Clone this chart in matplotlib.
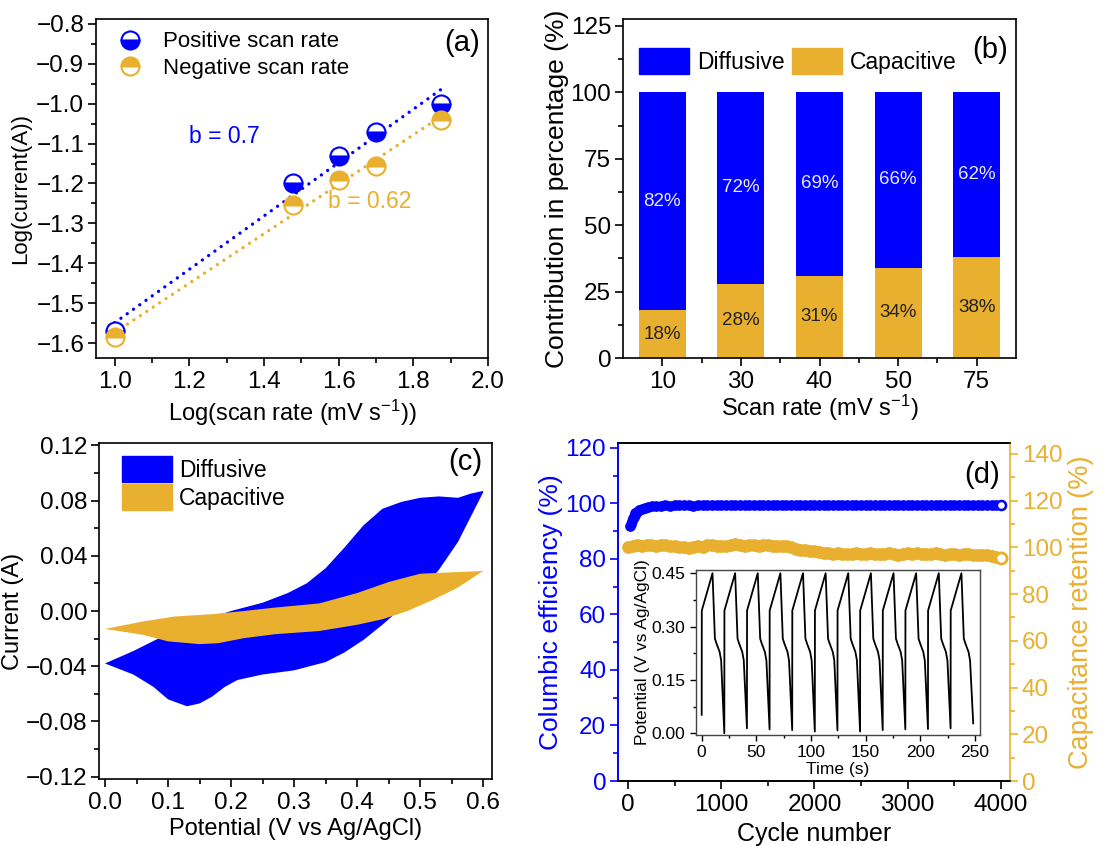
import numpy as np
import matplotlib
matplotlib.use("Agg")
import matplotlib.pyplot as plt
from matplotlib.patches import Patch
from matplotlib.ticker import MultipleLocator, FuncFormatter

plt.rcParams['font.family'] = ['Liberation Sans', 'DejaVu Sans']
plt.rcParams['mathtext.default'] = 'regular'
plt.rcParams['axes.linewidth'] = 1.2

BLUE = '#0000FF'
GOLD = '#E9B030'

# (a) b-value plot
log_rate = [1.0, 1.477, 1.602, 1.699, 1.875]
log_i_pos = [-1.57, -1.20, -1.13, -1.07, -1.00]
log_i_neg = [-1.585, -1.255, -1.19, -1.155, -1.04]

# (b) contributions
rates = ['10', '30', '40', '50', '75']
capacitive = [18, 28, 31, 34, 38]
diffusive = [82, 72, 69, 66, 62]

# (c) CV loops (potential V, current A)
diff_fwd_v = [0.0, 0.045, 0.08, 0.12, 0.16, 0.20, 0.25, 0.29, 0.32, 0.35, 0.38, 0.41, 0.44, 0.47, 0.50, 0.53, 0.56, 0.58, 0.6]
diff_fwd_i = [-0.038, -0.029, -0.021, -0.013, -0.006, 0.0, 0.006, 0.013, 0.020, 0.031, 0.046, 0.062, 0.074, 0.079, 0.082, 0.083, 0.082, 0.085, 0.087]
diff_rev_v = [0.6, 0.58, 0.56, 0.53, 0.50, 0.47, 0.44, 0.41, 0.38, 0.35, 0.30, 0.25, 0.21, 0.19, 0.17, 0.15, 0.13, 0.10, 0.077, 0.045, 0.0]
diff_rev_i = [0.086, 0.068, 0.050, 0.030, 0.014, 0.002, -0.010, -0.021, -0.030, -0.037, -0.043, -0.046, -0.050, -0.055, -0.062, -0.067, -0.069, -0.064, -0.055, -0.046, -0.038]
cap_fwd_v = [0.0, 0.06, 0.11, 0.17, 0.22, 0.27, 0.34, 0.40, 0.45, 0.50, 0.55, 0.6]
cap_fwd_i = [-0.013, -0.0076, -0.004, -0.0023, 0.0, 0.0025, 0.0055, 0.013, 0.021, 0.027, 0.028, 0.029]
cap_rev_v = [0.6, 0.56, 0.52, 0.48, 0.44, 0.40, 0.34, 0.27, 0.22, 0.18, 0.15, 0.10, 0.06, 0.0]
cap_rev_i = [0.029, 0.017, 0.008, 0.0, -0.006, -0.010, -0.0145, -0.0168, -0.0197, -0.0233, -0.024, -0.022, -0.0172, -0.013]

# (d) cycling
ce_cycles = [20, 30, 40, 50, 60, 70, 80, 100, 120, 150, 180, 220, 260, 300] + list(range(350, 4001, 50))
ce_values = [91.8, 92.5, 93.6, 94.6, 95.3, 95.9, 96.4, 97.1, 97.6, 98.1, 98.5, 98.8, 99.0, 99.1,
             99.2, 99.3, 99.2, 99.4, 99.3, 99.3, 99.4, 99.2, 99.3, 99.4,
             99.3, 99.4, 99.3, 99.5, 99.4, 99.3, 99.4, 99.4, 99.3, 99.5,
             99.4, 99.3, 99.4, 99.5, 99.4, 99.4, 99.3, 99.5, 99.4, 99.4,
             99.5, 99.4, 99.3, 99.4, 99.5, 99.4, 99.5, 99.4, 99.4, 99.5,
             99.4, 99.5, 99.4, 99.5, 99.5, 99.4, 99.5, 99.4, 99.5, 99.5,
             99.4, 99.5, 99.5, 99.4, 99.5, 99.5, 99.6, 99.5, 99.4, 99.5,
             99.5, 99.6, 99.5, 99.5, 99.4, 99.5, 99.6, 99.5, 99.5, 99.6,
             99.5, 99.5, 99.6, 99.6]
ret_cycles = list(range(0, 4001, 50))
ret_values = [100.0, 100.4, 100.8, 100.5, 100.9, 101.0, 100.6, 100.8, 100.9, 100.5,
              100.7, 100.2, 100.0, 99.8, 99.9, 100.4, 100.2, 100.8, 101.1, 100.7,
              100.4, 100.5, 100.9, 101.2, 101.0, 100.6, 100.9, 100.8, 100.6, 100.9,
              101.0, 100.6, 100.7, 100.4, 100.6,
              100.0, 99.3, 98.8, 98.9, 98.5, 98.3, 98.0, 97.6, 97.4, 97.3,
              97.5, 97.2, 97.0, 97.3, 97.6, 97.1, 97.0, 97.4, 97.2, 96.9,
              97.3, 97.5, 97.1, 96.8, 97.2, 97.4, 97.0, 97.6, 97.2, 96.9,
              97.1, 97.4, 97.0, 96.8, 97.2, 97.0, 96.7, 97.1, 96.9, 96.6,
              96.8, 96.5, 96.7, 96.2, 96.0, 95.2]

# inset GCD: one cycle shape (time offset s, potential V) and the low point of each cycle
gcd_period = 20.7
gcd_shape_dt = [0.1, 9.9, 12.1, 13.6, 16.4, 17.8]
gcd_shape_v = [0.345, 0.45, 0.266, 0.252, 0.229, 0.205]
gcd_lows = [0.052, 0.0, 0.014, 0.011, 0.009, 0.005, 0.008, 0.005, 0.009, 0.011, 0.012, 0.014, 0.028]

W, H = 1120, 846
fig = plt.figure(figsize=(W / 100, H / 100), dpi=100)


def rect(l, r, t, b):
    return [l / W, 1 - b / H, (r - l) / W, (b - t) / H]


def fmt(spec):
    return FuncFormatter(lambda v, p: (spec % v).replace('-', '\u2212'))


def style(ax, fs=17.5):
    ax.tick_params(which='both', direction='out', top=False, right=False, labelsize=fs, width=1.2)
    ax.tick_params(which='major', length=6)
    ax.tick_params(which='minor', length=3.5)
    ax.tick_params(axis='y', pad=2.5)


# ---- (a)
ax = fig.add_axes(rect(96, 488, 19, 358))
for y, c in [(log_i_pos, BLUE), (log_i_neg, GOLD)]:
    k, b0 = np.polyfit(log_rate, y, 1)
    xx = np.array([log_rate[0], log_rate[-1]])
    ax.plot(xx, k * xx + b0, color=c, lw=2.4, dashes=(0.01, 2.3), dash_capstyle='round')
ax.plot(log_rate, log_i_pos, 'o', ls='none', ms=13, mew=1.5, mec=BLUE, mfc=BLUE,
        fillstyle='bottom', markerfacecoloralt='white', label='Positive scan rate')
ax.plot(log_rate, log_i_neg, 'o', ls='none', ms=13, mew=1.5, mec=GOLD, mfc=GOLD,
        fillstyle='top', markerfacecoloralt='white', label='Negative scan rate')
ax.set_xlim(0.95, 2.0)
ax.set_ylim(-1.6376, -0.7875)
ax.xaxis.set_major_locator(MultipleLocator(0.2))
ax.xaxis.set_minor_locator(MultipleLocator(0.1))
ax.yaxis.set_major_locator(MultipleLocator(0.1))
ax.yaxis.set_minor_locator(MultipleLocator(0.05))
ax.xaxis.set_major_formatter(fmt('%.1f'))
ax.yaxis.set_major_formatter(fmt('%.1f'))
style(ax)
ax.text(1.2, -1.083, 'b = 0.7', color=BLUE, fontsize=16.5, va='center')
ax.text(1.572, -1.245, 'b = 0.62', color=GOLD, fontsize=16.5, va='center')
ax.text(0.98, 0.93, '(a)', transform=ax.transAxes, ha='right', va='center', fontsize=21)
ax.legend(loc='upper left', bbox_to_anchor=(0.035, 0.99), frameon=False, fontsize=16,
          handlelength=1.0, handletextpad=1.0, labelspacing=0.25, borderaxespad=0)
ax.set_xlabel('Log(scan rate (mV s$^{-1}$))', fontsize=17, labelpad=3)
ax.set_ylabel('Log(current(A))', fontsize=16, labelpad=4)

# ---- (b)
ax = fig.add_axes(rect(623, 1016, 19, 358))
x = np.arange(len(rates))
bc = ax.bar(x, capacitive, 0.6, color=GOLD)
bd = ax.bar(x, diffusive, 0.6, bottom=capacitive, color=BLUE)
ax.bar_label(bc, labels=[f'{v}%' for v in capacitive], label_type='center', fontsize=13.5, color='#222222')
ax.bar_label(bd, labels=[f'{v}%' for v in diffusive], label_type='center', fontsize=13.5, color='#E8E8FF')
ax.set_xlim(-0.5, 4.5)
ax.set_ylim(0, 127.6)
ax.set_xticks(x)
ax.set_xticklabels(rates)
ax.set_xticks(x[:-1] + 0.5, minor=True)
ax.yaxis.set_major_locator(MultipleLocator(25))
ax.yaxis.set_minor_locator(MultipleLocator(12.5))
style(ax)
ax.text(0.98, 0.91, '(b)', transform=ax.transAxes, ha='right', va='center', fontsize=21)
ax.legend(handles=[Patch(color=BLUE, label='Diffusive'), Patch(color=GOLD, label='Capacitive')],
          ncol=2, loc='center left', bbox_to_anchor=(0.04, 0.876), frameon=False, fontsize=16.5,
          handlelength=2.2, handleheight=1.35, handletextpad=0.35, columnspacing=0.3,
          borderaxespad=0, borderpad=0)
ax.set_xlabel('Scan rate (mV s$^{-1}$)', fontsize=17, labelpad=0)
ax.set_ylabel('Contribution in percentage (%)', fontsize=19, labelpad=1)

# ---- (c)
ax = fig.add_axes(rect(99, 492, 443, 779))
ax.fill(diff_fwd_v + diff_rev_v, diff_fwd_i + diff_rev_i, color=BLUE, lw=0)
ax.fill(cap_fwd_v + cap_rev_v, cap_fwd_i + cap_rev_i, color=GOLD, lw=0)
ax.set_xlim(-0.0095, 0.614)
ax.set_ylim(-0.1217, 0.1217)
ax.xaxis.set_major_locator(MultipleLocator(0.1))
ax.xaxis.set_minor_locator(MultipleLocator(0.05))
ax.yaxis.set_major_locator(MultipleLocator(0.04))
ax.yaxis.set_minor_locator(MultipleLocator(0.02))
ax.xaxis.set_major_formatter(fmt('%.1f'))
ax.yaxis.set_major_formatter(fmt('%.2f'))
style(ax)
ax.text(0.975, 0.943, '(c)', transform=ax.transAxes, ha='right', va='center', fontsize=21)
ax.legend(handles=[Patch(color=BLUE, label='Diffusive'), Patch(color=GOLD, label='Capacitive')],
          loc='upper left', bbox_to_anchor=(0.058, 0.961), frameon=False, fontsize=16.5,
          handlelength=2.2, handleheight=1.35, handletextpad=0.3, labelspacing=0.1,
          borderaxespad=0, borderpad=0)
ax.set_xlabel('Potential (V vs Ag/AgCl)', fontsize=17, labelpad=3)
ax.set_ylabel('Current (A)', fontsize=17, labelpad=1)

# ---- (d)
ax = fig.add_axes(rect(618, 1010, 443, 781))
ax2 = ax.twinx()
ax.plot(ce_cycles, ce_values, 'o', ls='none', ms=6.5, mec=BLUE, mfc=BLUE, mew=1.2)
ax.plot(ce_cycles[-1:], ce_values[-1:], 'o', ms=6.5, mec=BLUE, mfc='white', mew=1.8)
ax2.plot(ret_cycles, ret_values, 'o', ls='none', ms=8, mec=GOLD, mfc=GOLD, mew=1.2)
ax2.plot(ret_cycles[-1:], ret_values[-1:], 'o', ms=8, mec=GOLD, mfc='white', mew=2.0)
ax.set_xlim(-107, 4097)
ax.set_ylim(0, 121.8)
ax2.set_ylim(0, 144.6)
ax.xaxis.set_major_locator(MultipleLocator(1000))
ax.xaxis.set_minor_locator(MultipleLocator(500))
ax.yaxis.set_major_locator(MultipleLocator(20))
ax.yaxis.set_minor_locator(MultipleLocator(10))
ax2.yaxis.set_major_locator(MultipleLocator(20))
ax2.yaxis.set_minor_locator(MultipleLocator(10))
style(ax)
ax2.tick_params(which='both', direction='out', labelsize=17.5, width=1.2, colors=GOLD, pad=2.5)
ax2.tick_params(which='major', length=6)
ax2.tick_params(which='minor', length=3.5)
ax.tick_params(axis='y', which='both', colors=BLUE)
ax.spines['left'].set_color(BLUE)
ax2.spines['left'].set_color(BLUE)
ax2.spines['right'].set_color(GOLD)
ax.spines['right'].set_visible(False)
ax.text(0.975, 0.905, '(d)', transform=ax.transAxes, ha='right', va='center', fontsize=21)
ax.set_xlabel('Cycle number', fontsize=18, labelpad=4)
ax.set_ylabel('Columbic efficiency (%)', fontsize=19, color=BLUE, labelpad=2)
ax2.set_ylabel('Capacitance retention (%)', fontsize=19.5, color=GOLD, labelpad=4)

# inset
axi = fig.add_axes(rect(696, 980, 570, 735))
t_pts, v_pts = [0.0], [gcd_lows[0]]
for k in range(len(gcd_lows) - 1):
    t0 = k * gcd_period
    t_pts += [t0 + d for d in gcd_shape_dt] + [t0 + gcd_period]
    v_pts += gcd_shape_v + [gcd_lows[k + 1]]
axi.plot(t_pts, v_pts, color='black', lw=1.3)
axi.set_xlim(-5.2, 254.6)
axi.set_ylim(-0.0047, 0.459)
axi.xaxis.set_major_locator(MultipleLocator(50))
axi.xaxis.set_minor_locator(MultipleLocator(25))
axi.yaxis.set_major_locator(MultipleLocator(0.15))
axi.yaxis.set_minor_locator(MultipleLocator(0.075))
axi.yaxis.set_major_formatter(fmt('%.2f'))
for s in axi.spines.values():
    s.set_linewidth(1.0)
    s.set_color('#444444')
axi.tick_params(which='both', direction='out', top=False, right=False, labelsize=12.5, width=1.0)
axi.tick_params(which='major', length=4)
axi.tick_params(which='minor', length=2.5)
axi.set_xlabel('Time (s)', fontsize=12.5, labelpad=1)
axi.set_ylabel('Potential (V vs Ag/AgCl)', fontsize=12.5, labelpad=1)

fig.savefig('out.png', dpi=100)
